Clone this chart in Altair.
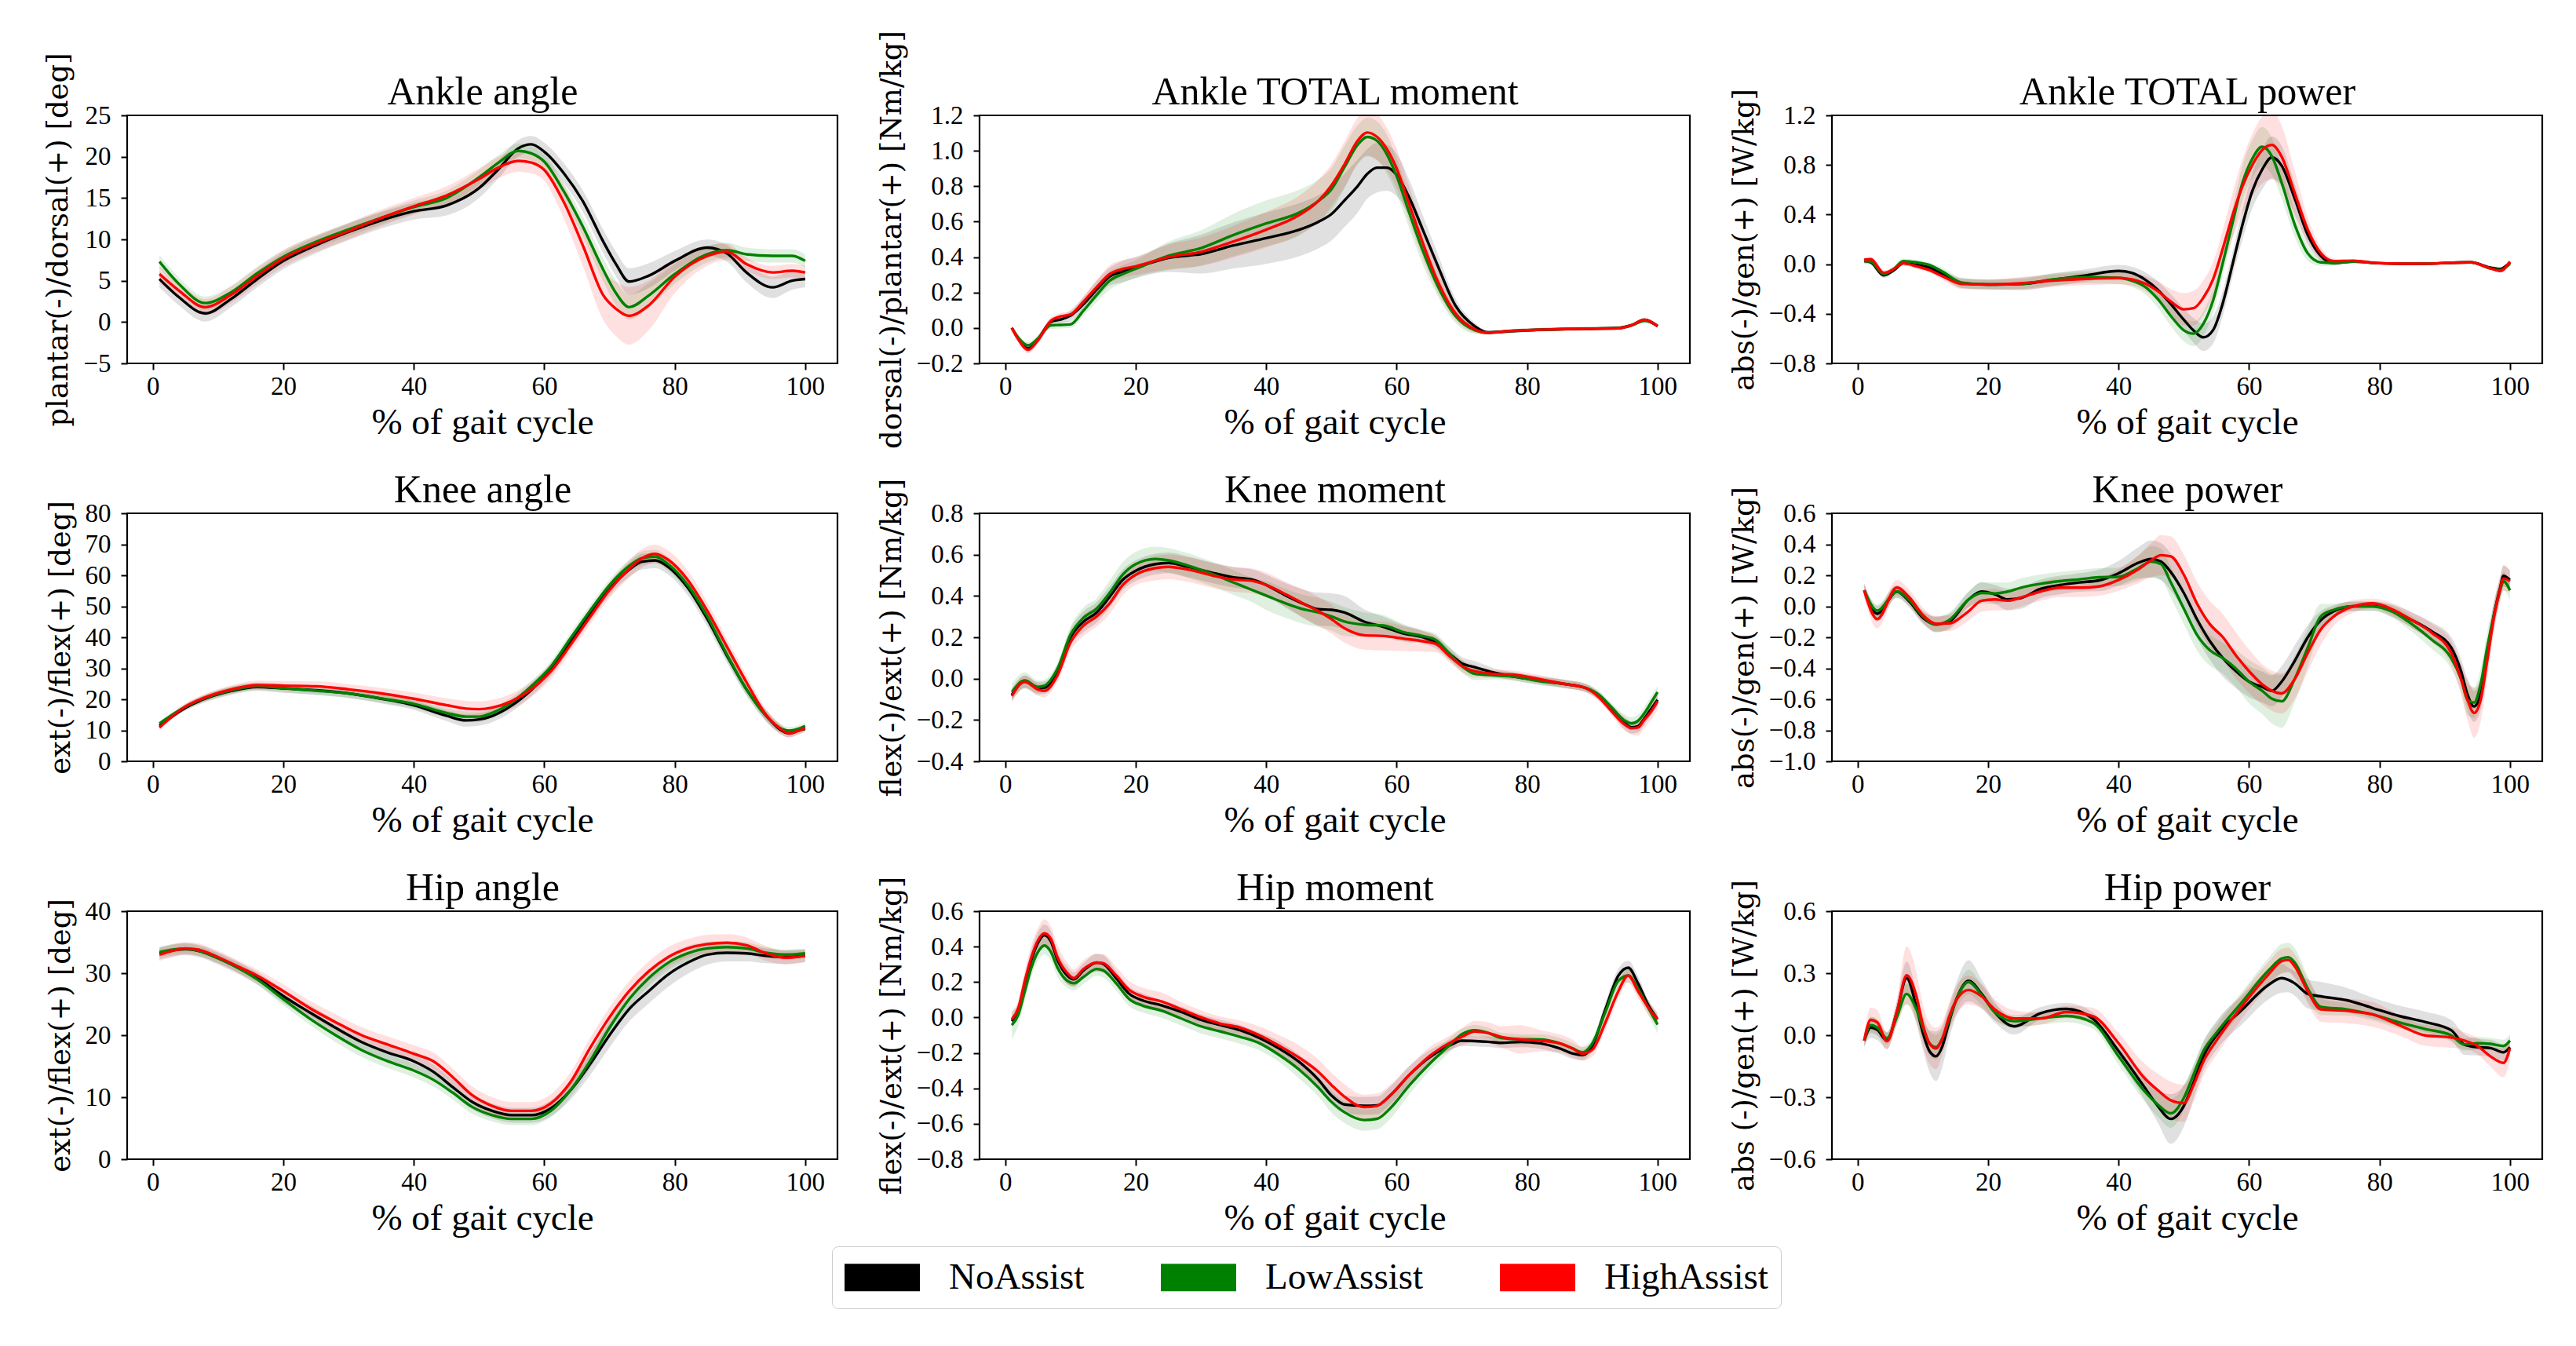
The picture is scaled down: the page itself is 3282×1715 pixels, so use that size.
import altair as alt
import pandas as pd

GROUPS = ["NoAssist", "LowAssist", "HighAssist"]
COLORS = ["#000000", "#008000", "#ff0000"]
X_TICKS = [0, 20, 40, 60, 80, 100]

# ---------------- Ankle angle ----------------
AA_X = [1, 4, 8, 12, 16, 20, 25, 30, 35, 40, 45, 50, 53, 56, 58, 60, 63, 66, 69, 71, 73, 76, 80, 85, 88, 91, 95, 98, 100]
AA_NOA = [5.2, 3.0, 1.05, 2.8, 5.2, 7.4, 9.3, 10.9, 12.3, 13.4, 14.1, 16.2, 18.5, 21.0, 21.5, 20.6, 18.0, 14.5, 9.8, 7.0, 4.9, 5.6, 7.4, 9.0, 8.3, 6.0, 4.2, 5.0, 5.2]
AA_NOA_SD = [1.0, 1.0, 1.0, 1.0, 1.0, 1.0, 1.0, 1.0, 1.0, 1.0, 1.2, 1.2, 1.1, 1.0, 1.0, 1.1, 1.2, 1.3, 1.4, 1.5, 1.6, 1.5, 1.2, 1.0, 1.0, 1.2, 1.3, 1.1, 1.0]
AA_LOW = [7.3, 4.6, 2.3, 3.6, 5.9, 7.9, 9.7, 11.2, 12.6, 13.9, 15.0, 17.5, 19.3, 20.7, 20.4, 19.4, 15.8, 11.4, 6.4, 3.5, 1.8, 3.2, 5.8, 8.2, 8.7, 8.2, 8.0, 8.0, 7.4]
AA_LOW_SD = [0.8, 0.8, 0.8, 0.8, 0.8, 0.8, 0.8, 0.8, 0.8, 0.8, 0.9, 0.9, 0.9, 0.9, 0.9, 0.9, 1.0, 1.2, 1.4, 1.5, 1.5, 1.5, 1.2, 1.0, 0.9, 0.8, 0.8, 0.8, 0.8]
AA_HIGH = [5.8, 3.8, 1.8, 3.3, 5.6, 7.7, 9.5, 11.0, 12.6, 14.0, 15.3, 17.3, 18.7, 19.5, 19.3, 18.4, 14.5, 9.1, 3.3, 1.6, 0.75, 2.0, 5.5, 8.0, 8.5, 7.0, 6.0, 6.2, 6.0]
AA_HIGH_SD = [1.0, 1.0, 1.0, 1.0, 1.0, 1.0, 1.0, 1.0, 1.0, 1.0, 1.1, 1.3, 1.3, 1.3, 1.3, 1.3, 2.0, 2.5, 3.0, 3.3, 3.5, 3.0, 2.0, 1.2, 1.0, 0.8, 0.8, 0.8, 0.8]

# ---------------- Ankle TOTAL moment ----------------
AM_X = [1, 2, 3.5, 5, 7, 8.5, 10, 12, 14, 16, 18, 20, 25, 30, 35, 40, 45, 48, 50, 52, 54, 55.5, 57, 58.5, 60, 62, 64, 66, 69, 72, 74, 77, 82, 88, 94, 96, 98, 100]
AM_NOA = [0.0, -0.06, -0.116, -0.064, 0.035, 0.048, 0.07, 0.135, 0.216, 0.29, 0.319, 0.341, 0.396, 0.417, 0.466, 0.507, 0.554, 0.599, 0.643, 0.72, 0.8, 0.87, 0.905, 0.905, 0.864, 0.73, 0.555, 0.378, 0.127, 0.009, -0.025, -0.02, -0.01, -0.005, 0.0, 0.015, 0.046, 0.01]
AM_NOA_SD = [0.01, 0.015, 0.02, 0.02, 0.02, 0.02, 0.03, 0.04, 0.05, 0.05, 0.06, 0.06, 0.08, 0.11, 0.13, 0.145, 0.15, 0.15, 0.15, 0.15, 0.15, 0.14, 0.14, 0.13, 0.12, 0.1, 0.08, 0.07, 0.04, 0.02, 0.01, 0.01, 0.01, 0.01, 0.01, 0.01, 0.01, 0.01]
AM_LOW = [0.0, -0.055, -0.098, -0.06, 0.015, 0.017, 0.02, 0.098, 0.186, 0.267, 0.304, 0.334, 0.407, 0.451, 0.525, 0.59, 0.65, 0.717, 0.783, 0.908, 1.033, 1.078, 1.056, 0.98, 0.856, 0.643, 0.437, 0.26, 0.068, -0.013, -0.027, -0.018, -0.01, -0.005, 0.0, 0.015, 0.04, 0.013]
AM_LOW_SD = [0.01, 0.015, 0.02, 0.02, 0.02, 0.02, 0.02, 0.03, 0.04, 0.05, 0.05, 0.05, 0.08, 0.1, 0.12, 0.13, 0.13, 0.12, 0.12, 0.12, 0.11, 0.11, 0.11, 0.11, 0.1, 0.09, 0.08, 0.06, 0.04, 0.02, 0.01, 0.01, 0.01, 0.01, 0.01, 0.01, 0.01, 0.01]
AM_HIGH = [0.0, -0.065, -0.123, -0.07, 0.04, 0.065, 0.076, 0.149, 0.23, 0.304, 0.333, 0.348, 0.4, 0.43, 0.488, 0.555, 0.636, 0.717, 0.805, 0.923, 1.056, 1.103, 1.078, 1.01, 0.9, 0.69, 0.48, 0.289, 0.083, -0.008, -0.027, -0.018, -0.01, -0.005, -0.002, 0.015, 0.046, 0.01]
AM_HIGH_SD = [0.01, 0.015, 0.02, 0.02, 0.02, 0.02, 0.02, 0.03, 0.04, 0.05, 0.05, 0.05, 0.07, 0.08, 0.09, 0.1, 0.11, 0.12, 0.12, 0.13, 0.13, 0.13, 0.13, 0.12, 0.11, 0.1, 0.09, 0.07, 0.04, 0.02, 0.01, 0.01, 0.01, 0.01, 0.01, 0.01, 0.01, 0.01]

# ---------------- Ankle TOTAL power ----------------
AP_X = [1, 2, 4, 5.5, 7, 9, 11, 13, 16, 20, 25, 30, 35, 40, 42, 44, 46, 48, 50, 51.5, 53, 54.5, 56, 57.5, 59, 60.5, 62, 63.5, 65, 67, 69, 71, 73, 76, 80, 86, 94, 97, 98.5, 100]
AP_NOA = [0.025, 0.015, -0.09, -0.05, 0.008, -0.006, -0.027, -0.08, -0.154, -0.164, -0.16, -0.126, -0.09, -0.055, -0.07, -0.122, -0.206, -0.322, -0.448, -0.535, -0.59, -0.53, -0.31, 0.005, 0.32, 0.59, 0.762, 0.861, 0.794, 0.53, 0.236, 0.067, 0.01, 0.021, 0.008, 0.004, 0.015, -0.027, -0.038, 0.015]
AP_NOA_SD = [0.02, 0.02, 0.02, 0.02, 0.02, 0.02, 0.02, 0.03, 0.04, 0.04, 0.05, 0.05, 0.05, 0.05, 0.05, 0.06, 0.07, 0.08, 0.09, 0.1, 0.11, 0.11, 0.1, 0.1, 0.12, 0.14, 0.16, 0.17, 0.16, 0.12, 0.08, 0.04, 0.02, 0.01, 0.01, 0.01, 0.01, 0.01, 0.01, 0.01]
AP_LOW = [0.025, 0.02, -0.08, -0.04, 0.025, 0.015, -0.006, -0.06, -0.15, -0.164, -0.16, -0.122, -0.105, -0.11, -0.133, -0.18, -0.28, -0.417, -0.533, -0.56, -0.48, -0.29, 0.015, 0.34, 0.657, 0.85, 0.947, 0.87, 0.657, 0.32, 0.088, 0.015, 0.01, 0.021, 0.008, 0.004, 0.015, -0.034, -0.048, 0.004]
AP_LOW_SD = [0.02, 0.02, 0.02, 0.02, 0.02, 0.02, 0.02, 0.03, 0.04, 0.04, 0.04, 0.05, 0.05, 0.05, 0.05, 0.06, 0.07, 0.08, 0.09, 0.1, 0.1, 0.1, 0.1, 0.12, 0.14, 0.15, 0.16, 0.15, 0.13, 0.1, 0.06, 0.03, 0.02, 0.01, 0.01, 0.01, 0.01, 0.01, 0.01, 0.01]
AP_HIGH = [0.036, 0.04, -0.07, -0.04, 0.008, -0.017, -0.048, -0.097, -0.16, -0.164, -0.154, -0.133, -0.118, -0.112, -0.122, -0.154, -0.217, -0.301, -0.364, -0.355, -0.27, -0.12, 0.13, 0.4, 0.63, 0.8, 0.92, 0.962, 0.867, 0.573, 0.278, 0.088, 0.025, 0.028, 0.008, 0.004, 0.015, -0.034, -0.055, 0.021]
AP_HIGH_SD = [0.02, 0.02, 0.02, 0.02, 0.02, 0.02, 0.02, 0.03, 0.04, 0.04, 0.05, 0.05, 0.05, 0.05, 0.05, 0.06, 0.08, 0.1, 0.13, 0.14, 0.14, 0.14, 0.15, 0.18, 0.22, 0.25, 0.27, 0.28, 0.25, 0.18, 0.1, 0.05, 0.02, 0.01, 0.01, 0.01, 0.01, 0.01, 0.01, 0.01]

# ---------------- Knee angle ----------------
KA_X = [1, 5, 8, 12, 16, 20, 25, 30, 35, 40, 45, 48, 50, 52, 55, 58, 61, 64, 67, 70, 73, 75, 77, 79, 82, 85, 88, 91, 94, 96, 97.5, 99, 100]
KA_NOA = [11.4, 17.3, 20.2, 22.7, 24.0, 23.5, 22.9, 21.9, 20.2, 18.1, 14.7, 13.2, 13.5, 14.6, 18.0, 23.0, 29.5, 38.3, 47.2, 55.5, 61.8, 64.4, 64.8, 62.7, 56.0, 45.9, 34.1, 23.2, 14.7, 10.5, 9.0, 9.9, 10.5]
KA_NOA_SD = [0.8, 1.0, 1.2, 1.3, 1.3, 1.4, 1.5, 1.5, 1.5, 1.5, 1.7, 2.0, 2.0, 2.0, 2.0, 2.0, 2.0, 2.0, 2.0, 2.0, 2.3, 2.5, 2.5, 2.5, 2.5, 2.5, 2.3, 2.0, 1.8, 1.5, 1.3, 1.2, 1.0]
KA_LOW = [12.2, 17.6, 20.4, 22.9, 24.2, 23.6, 22.8, 21.9, 20.3, 18.5, 15.6, 14.4, 14.4, 15.6, 19.0, 24.2, 30.5, 39.6, 48.5, 56.8, 63.0, 65.5, 66.0, 63.6, 56.8, 46.7, 34.5, 23.2, 14.7, 10.9, 9.9, 10.5, 11.4]
KA_LOW_SD = [0.8, 1.0, 1.1, 1.2, 1.2, 1.3, 1.3, 1.4, 1.4, 1.4, 1.5, 1.7, 1.7, 1.7, 1.7, 1.7, 1.7, 1.8, 1.8, 1.8, 2.0, 2.2, 2.2, 2.2, 2.2, 2.2, 2.0, 1.8, 1.6, 1.4, 1.2, 1.1, 1.0]
KA_HIGH = [10.9, 17.7, 20.6, 23.2, 24.6, 24.4, 24.2, 23.2, 21.9, 20.2, 18.1, 17.0, 16.8, 17.3, 19.4, 23.2, 29.0, 37.5, 46.5, 55.2, 62.0, 65.5, 66.9, 65.0, 58.5, 48.5, 37.0, 25.5, 15.0, 10.8, 9.0, 9.9, 10.7]
KA_HIGH_SD = [0.8, 1.0, 1.2, 1.3, 1.4, 1.5, 1.6, 1.7, 1.8, 2.0, 2.2, 2.5, 2.5, 2.5, 2.5, 2.5, 2.5, 2.5, 2.5, 2.6, 2.8, 3.0, 3.0, 3.0, 3.0, 2.8, 2.5, 2.3, 2.0, 1.6, 1.3, 1.2, 1.0]

# ---------------- Knee moment ----------------
KM_X = [1, 3, 5, 6, 8, 10, 12, 14, 16, 18, 20, 23, 25, 28, 32, 35, 38, 40, 43, 46, 48, 50, 52, 55, 58, 61, 64, 66, 68, 70, 72, 75, 78, 82, 86, 89, 91, 93, 95, 96, 97, 98, 99, 100]
KM_NOA = [-0.078, -0.015, -0.046, -0.044, 0.035, 0.2, 0.276, 0.32, 0.396, 0.478, 0.522, 0.554, 0.56, 0.541, 0.51, 0.49, 0.478, 0.453, 0.402, 0.358, 0.336, 0.333, 0.32, 0.276, 0.25, 0.219, 0.2, 0.175, 0.124, 0.074, 0.055, 0.029, 0.01, -0.009, -0.027, -0.046, -0.084, -0.147, -0.217, -0.236, -0.23, -0.192, -0.147, -0.103]
KM_NOA_SD = [0.03, 0.03, 0.03, 0.03, 0.03, 0.04, 0.05, 0.05, 0.05, 0.05, 0.05, 0.05, 0.05, 0.05, 0.05, 0.05, 0.05, 0.05, 0.06, 0.07, 0.08, 0.08, 0.08, 0.06, 0.05, 0.04, 0.03, 0.03, 0.03, 0.03, 0.03, 0.02, 0.02, 0.02, 0.02, 0.02, 0.02, 0.02, 0.03, 0.03, 0.03, 0.03, 0.03, 0.03]
KM_LOW = [-0.065, -0.009, -0.04, -0.034, 0.048, 0.213, 0.295, 0.339, 0.415, 0.503, 0.554, 0.579, 0.572, 0.547, 0.503, 0.465, 0.427, 0.402, 0.364, 0.333, 0.32, 0.301, 0.276, 0.261, 0.257, 0.225, 0.206, 0.187, 0.124, 0.061, 0.023, 0.016, 0.01, -0.013, -0.027, -0.044, -0.078, -0.141, -0.204, -0.217, -0.204, -0.166, -0.116, -0.065]
KM_LOW_SD = [0.04, 0.04, 0.03, 0.03, 0.03, 0.04, 0.05, 0.05, 0.06, 0.06, 0.06, 0.06, 0.06, 0.06, 0.06, 0.06, 0.06, 0.07, 0.07, 0.07, 0.07, 0.07, 0.07, 0.06, 0.05, 0.04, 0.03, 0.03, 0.03, 0.03, 0.03, 0.02, 0.02, 0.02, 0.02, 0.02, 0.02, 0.02, 0.03, 0.03, 0.03, 0.03, 0.03, 0.03]
KM_HIGH = [-0.084, -0.015, -0.053, -0.059, 0.016, 0.175, 0.257, 0.301, 0.364, 0.453, 0.503, 0.535, 0.541, 0.528, 0.497, 0.48, 0.472, 0.453, 0.408, 0.358, 0.326, 0.288, 0.244, 0.21, 0.206, 0.194, 0.181, 0.168, 0.112, 0.061, 0.036, 0.023, 0.019, -0.003, -0.027, -0.046, -0.09, -0.16, -0.223, -0.24, -0.236, -0.198, -0.16, -0.11]
KM_HIGH_SD = [0.03, 0.03, 0.03, 0.03, 0.03, 0.04, 0.05, 0.05, 0.05, 0.05, 0.05, 0.06, 0.06, 0.06, 0.06, 0.06, 0.06, 0.06, 0.06, 0.07, 0.07, 0.07, 0.07, 0.07, 0.07, 0.06, 0.05, 0.04, 0.03, 0.03, 0.03, 0.02, 0.02, 0.02, 0.02, 0.02, 0.02, 0.02, 0.03, 0.03, 0.04, 0.04, 0.04, 0.04]

# ---------------- Knee power ----------------
KP_X = [1, 3, 6, 8, 10, 12, 14, 17, 19, 21, 23, 25, 28, 31, 34, 37, 40, 43, 45, 46.5, 48, 50, 52, 54, 56, 58, 60, 62, 63.5, 65, 67, 69, 71, 73, 76, 79, 82, 85, 88, 91, 92.5, 93.5, 94.5, 95.5, 96.5, 97.5, 98.5, 99, 100]
KP_NOA = [0.103, -0.048, 0.095, 0.027, -0.074, -0.116, -0.1, 0.044, 0.095, 0.078, 0.044, 0.053, 0.112, 0.137, 0.154, 0.167, 0.213, 0.28, 0.305, 0.288, 0.221, 0.086, -0.082, -0.225, -0.335, -0.419, -0.486, -0.52, -0.545, -0.486, -0.352, -0.2, -0.09, -0.032, 0.0, 0.002, -0.03, -0.09, -0.162, -0.267, -0.419, -0.57, -0.646, -0.57, -0.335, -0.065, 0.12, 0.196, 0.17]
KP_NOA_SD = [0.04, 0.05, 0.04, 0.04, 0.04, 0.05, 0.05, 0.05, 0.06, 0.06, 0.07, 0.07, 0.06, 0.06, 0.06, 0.07, 0.08, 0.1, 0.12, 0.12, 0.12, 0.12, 0.12, 0.12, 0.12, 0.11, 0.1, 0.1, 0.1, 0.1, 0.1, 0.08, 0.06, 0.04, 0.03, 0.03, 0.04, 0.05, 0.06, 0.07, 0.08, 0.1, 0.1, 0.1, 0.1, 0.08, 0.07, 0.07, 0.06]
KP_LOW = [0.103, -0.028, 0.095, 0.036, -0.065, -0.119, -0.09, 0.044, 0.086, 0.083, 0.095, 0.12, 0.145, 0.162, 0.174, 0.187, 0.19, 0.246, 0.288, 0.272, 0.154, -0.015, -0.183, -0.284, -0.335, -0.402, -0.486, -0.545, -0.596, -0.613, -0.469, -0.267, -0.065, -0.023, 0.0, -0.001, -0.035, -0.116, -0.215, -0.335, -0.469, -0.604, -0.621, -0.503, -0.267, -0.065, 0.103, 0.162, 0.103]
KP_LOW_SD = [0.04, 0.04, 0.04, 0.04, 0.04, 0.05, 0.05, 0.05, 0.07, 0.07, 0.06, 0.06, 0.06, 0.06, 0.06, 0.06, 0.06, 0.08, 0.1, 0.1, 0.1, 0.1, 0.1, 0.1, 0.1, 0.12, 0.14, 0.15, 0.16, 0.17, 0.15, 0.12, 0.08, 0.04, 0.03, 0.03, 0.04, 0.05, 0.06, 0.07, 0.08, 0.1, 0.1, 0.1, 0.1, 0.08, 0.07, 0.06, 0.06]
KP_HIGH = [0.103, -0.082, 0.12, 0.053, -0.057, -0.112, -0.11, -0.032, 0.036, 0.044, 0.036, 0.056, 0.095, 0.12, 0.12, 0.128, 0.17, 0.238, 0.297, 0.33, 0.322, 0.204, 0.019, -0.116, -0.2, -0.318, -0.419, -0.503, -0.545, -0.562, -0.469, -0.301, -0.149, -0.065, 0.0, 0.019, -0.02, -0.09, -0.17, -0.301, -0.469, -0.604, -0.688, -0.604, -0.352, -0.082, 0.112, 0.179, 0.162]
KP_HIGH_SD = [0.05, 0.06, 0.05, 0.05, 0.05, 0.05, 0.05, 0.06, 0.07, 0.07, 0.06, 0.06, 0.06, 0.06, 0.06, 0.06, 0.07, 0.09, 0.11, 0.13, 0.13, 0.13, 0.14, 0.15, 0.15, 0.15, 0.14, 0.13, 0.13, 0.13, 0.13, 0.12, 0.1, 0.06, 0.04, 0.03, 0.04, 0.05, 0.06, 0.08, 0.1, 0.13, 0.16, 0.14, 0.12, 0.1, 0.08, 0.08, 0.07]

# ---------------- Hip angle ----------------
HA_X = [1, 3, 5, 7, 10, 13, 16, 20, 24, 28, 32, 36, 40, 43, 46, 49, 52, 55, 58, 61, 64, 67, 70, 73, 76, 79, 82, 85, 88, 91, 94, 97, 100]
HA_NOA = [33.2, 33.7, 33.9, 33.6, 32.4, 30.9, 29.2, 26.3, 23.7, 21.2, 18.9, 17.2, 15.8, 14.1, 11.6, 9.2, 7.8, 7.1, 7.1, 8.2, 11.1, 15.3, 20.0, 24.2, 27.1, 29.8, 31.7, 33.0, 33.3, 33.2, 32.8, 32.6, 32.8]
HA_NOA_SD = [1.0, 1.0, 1.0, 1.0, 1.0, 1.0, 1.0, 1.1, 1.2, 1.2, 1.2, 1.2, 1.2, 1.2, 1.2, 1.2, 1.2, 1.2, 1.2, 1.3, 1.5, 1.8, 2.0, 2.0, 2.0, 2.0, 1.8, 1.6, 1.4, 1.3, 1.2, 1.1, 1.0]
HA_LOW = [33.4, 33.8, 33.95, 33.6, 32.4, 30.9, 29.0, 25.8, 22.7, 20.0, 17.6, 15.8, 14.3, 12.8, 10.7, 8.4, 7.1, 6.5, 6.5, 7.8, 11.1, 15.8, 21.2, 25.8, 29.2, 31.7, 33.2, 34.0, 34.2, 34.0, 33.3, 33.0, 33.2]
HA_LOW_SD = [0.8, 0.8, 0.8, 0.8, 0.8, 0.8, 0.9, 1.0, 1.0, 1.1, 1.1, 1.1, 1.1, 1.1, 1.1, 1.1, 1.0, 1.0, 1.0, 1.0, 1.1, 1.2, 1.3, 1.3, 1.3, 1.2, 1.2, 1.1, 1.0, 1.0, 0.9, 0.8, 0.8]
HA_HIGH = [33.0, 33.6, 34.0, 33.8, 32.6, 31.1, 29.6, 27.1, 24.4, 22.1, 20.0, 18.5, 17.0, 15.8, 13.2, 10.3, 8.6, 7.8, 7.8, 9.0, 12.4, 17.9, 22.9, 27.1, 30.3, 32.6, 34.0, 34.7, 34.9, 34.5, 33.2, 32.5, 32.8]
HA_HIGH_SD = [1.0, 1.0, 1.0, 1.0, 1.0, 1.0, 1.0, 1.1, 1.2, 1.3, 1.3, 1.3, 1.4, 1.4, 1.4, 1.4, 1.4, 1.4, 1.4, 1.5, 1.6, 1.6, 1.6, 1.6, 1.6, 1.6, 1.5, 1.5, 1.4, 1.3, 1.2, 1.1, 1.0]

# ---------------- Hip moment ----------------
HM_X = [1, 2, 3, 4, 5, 6, 7, 8, 9.5, 10.5, 12, 14, 15, 17, 19, 21, 24, 27, 30, 33, 36, 39, 42, 45, 48, 50, 52, 55, 57, 59, 62, 65, 68, 70, 72, 74, 76, 79, 82, 85, 87, 88.5, 90, 92, 94, 95.5, 97, 98.5, 100]
HM_NOA = [-0.021, 0.046, 0.193, 0.325, 0.421, 0.465, 0.428, 0.325, 0.237, 0.215, 0.266, 0.31, 0.303, 0.222, 0.134, 0.097, 0.068, 0.031, -0.013, -0.043, -0.072, -0.116, -0.175, -0.249, -0.351, -0.44, -0.491, -0.499, -0.496, -0.44, -0.322, -0.226, -0.16, -0.131, -0.133, -0.137, -0.143, -0.138, -0.146, -0.175, -0.204, -0.212, -0.16, 0.046, 0.237, 0.281, 0.193, 0.075, -0.01]
HM_NOA_SD = [0.03, 0.04, 0.05, 0.06, 0.06, 0.06, 0.06, 0.05, 0.05, 0.04, 0.04, 0.05, 0.05, 0.04, 0.04, 0.04, 0.03, 0.03, 0.03, 0.03, 0.03, 0.03, 0.04, 0.04, 0.05, 0.05, 0.05, 0.05, 0.05, 0.05, 0.05, 0.04, 0.03, 0.03, 0.03, 0.03, 0.03, 0.03, 0.03, 0.03, 0.03, 0.03, 0.03, 0.04, 0.04, 0.04, 0.04, 0.03, 0.03]
HM_LOW = [-0.043, 0.016, 0.149, 0.281, 0.369, 0.406, 0.369, 0.281, 0.207, 0.193, 0.229, 0.274, 0.266, 0.193, 0.104, 0.068, 0.038, -0.006, -0.05, -0.079, -0.109, -0.146, -0.212, -0.293, -0.396, -0.476, -0.535, -0.579, -0.572, -0.513, -0.381, -0.263, -0.16, -0.094, -0.072, -0.087, -0.116, -0.124, -0.124, -0.146, -0.175, -0.197, -0.146, 0.031, 0.207, 0.237, 0.163, 0.06, -0.04]
HM_LOW_SD = [0.08, 0.06, 0.05, 0.05, 0.05, 0.05, 0.05, 0.05, 0.04, 0.04, 0.04, 0.04, 0.04, 0.04, 0.04, 0.04, 0.04, 0.04, 0.04, 0.04, 0.04, 0.04, 0.04, 0.05, 0.05, 0.06, 0.06, 0.06, 0.06, 0.06, 0.05, 0.04, 0.04, 0.03, 0.03, 0.03, 0.03, 0.03, 0.03, 0.03, 0.03, 0.03, 0.03, 0.04, 0.04, 0.04, 0.04, 0.04, 0.05]
HM_HIGH = [-0.01, 0.053, 0.207, 0.34, 0.435, 0.475, 0.443, 0.34, 0.251, 0.222, 0.274, 0.31, 0.307, 0.237, 0.156, 0.119, 0.09, 0.046, 0.001, -0.035, -0.057, -0.101, -0.16, -0.226, -0.307, -0.381, -0.447, -0.506, -0.499, -0.44, -0.322, -0.219, -0.146, -0.109, -0.079, -0.087, -0.109, -0.124, -0.131, -0.146, -0.175, -0.204, -0.182, -0.028, 0.149, 0.237, 0.149, 0.06, -0.01]
HM_HIGH_SD = [0.04, 0.05, 0.06, 0.07, 0.07, 0.08, 0.07, 0.07, 0.06, 0.05, 0.05, 0.05, 0.05, 0.05, 0.05, 0.05, 0.05, 0.04, 0.04, 0.04, 0.04, 0.05, 0.06, 0.07, 0.07, 0.07, 0.07, 0.07, 0.07, 0.06, 0.05, 0.05, 0.04, 0.05, 0.06, 0.06, 0.06, 0.08, 0.06, 0.05, 0.05, 0.04, 0.04, 0.04, 0.04, 0.04, 0.04, 0.04, 0.04]

# ---------------- Hip power ----------------
HP_X = [1, 2, 3, 4.5, 6, 7.5, 9, 10, 11, 12, 13, 14, 15, 17, 19, 21, 24, 28, 32, 36, 40, 44, 46, 48, 50, 51.5, 53, 55, 59, 63, 65, 66, 67, 69, 71, 75, 79, 83, 87, 91, 93, 95, 97, 99, 100]
HP_NOA = [-0.026, 0.037, 0.026, -0.026, 0.112, 0.276, 0.137, 0.011, -0.077, -0.102, -0.052, 0.062, 0.163, 0.263, 0.2, 0.112, 0.043, 0.106, 0.127, 0.081, -0.077, -0.253, -0.342, -0.405, -0.342, -0.228, -0.102, -0.001, 0.125, 0.244, 0.276, 0.268, 0.251, 0.2, 0.188, 0.169, 0.131, 0.093, 0.064, 0.024, -0.045, -0.058, -0.062, -0.083, -0.058]
HP_NOA_SD = [0.03, 0.05, 0.05, 0.04, 0.05, 0.08, 0.08, 0.08, 0.1, 0.12, 0.1, 0.08, 0.08, 0.1, 0.07, 0.05, 0.04, 0.03, 0.03, 0.03, 0.04, 0.06, 0.08, 0.12, 0.1, 0.08, 0.07, 0.07, 0.07, 0.07, 0.07, 0.06, 0.06, 0.07, 0.07, 0.06, 0.05, 0.05, 0.05, 0.05, 0.05, 0.04, 0.04, 0.04, 0.04]
HP_LOW = [-0.026, 0.049, 0.037, -0.014, 0.087, 0.2, 0.125, 0.037, -0.039, -0.058, -0.014, 0.074, 0.163, 0.257, 0.194, 0.112, 0.068, 0.081, 0.093, 0.062, -0.102, -0.272, -0.335, -0.378, -0.304, -0.19, -0.077, 0.011, 0.163, 0.314, 0.371, 0.377, 0.352, 0.226, 0.137, 0.125, 0.1, 0.062, 0.03, -0.001, -0.045, -0.039, -0.042, -0.052, -0.026]
HP_LOW_SD = [0.03, 0.04, 0.04, 0.03, 0.04, 0.05, 0.06, 0.06, 0.06, 0.06, 0.05, 0.05, 0.05, 0.06, 0.05, 0.04, 0.03, 0.03, 0.03, 0.03, 0.04, 0.05, 0.06, 0.07, 0.06, 0.05, 0.05, 0.05, 0.05, 0.06, 0.07, 0.07, 0.07, 0.06, 0.04, 0.03, 0.03, 0.03, 0.03, 0.03, 0.03, 0.03, 0.03, 0.03, 0.03]
HP_HIGH = [-0.026, 0.074, 0.062, -0.029, 0.112, 0.29, 0.188, 0.049, -0.039, -0.064, -0.014, 0.087, 0.163, 0.219, 0.188, 0.125, 0.081, 0.081, 0.112, 0.093, -0.039, -0.209, -0.266, -0.315, -0.329, -0.241, -0.127, -0.026, 0.144, 0.295, 0.358, 0.364, 0.333, 0.213, 0.125, 0.118, 0.1, 0.049, -0.001, -0.011, -0.026, -0.052, -0.102, -0.134, -0.064]
HP_HIGH_SD = [0.03, 0.06, 0.06, 0.04, 0.06, 0.14, 0.12, 0.1, 0.1, 0.1, 0.08, 0.07, 0.07, 0.07, 0.06, 0.05, 0.04, 0.03, 0.03, 0.04, 0.05, 0.07, 0.08, 0.09, 0.09, 0.08, 0.07, 0.07, 0.06, 0.06, 0.06, 0.06, 0.06, 0.06, 0.06, 0.06, 0.06, 0.05, 0.05, 0.05, 0.04, 0.04, 0.05, 0.07, 0.06]

PANELS = [
    ("Ankle angle", "plantar(-)/dorsal(+) [deg]", AA_X, [AA_NOA, AA_LOW, AA_HIGH], [AA_NOA_SD, AA_LOW_SD, AA_HIGH_SD], [-5, 25], [-5, 0, 5, 10, 15, 20, 25], "d"),
    ("Ankle TOTAL moment", "dorsal(-)/plantar(+) [Nm/kg]", AM_X, [AM_NOA, AM_LOW, AM_HIGH], [AM_NOA_SD, AM_LOW_SD, AM_HIGH_SD], [-0.2, 1.2], [-0.2, 0.0, 0.2, 0.4, 0.6, 0.8, 1.0, 1.2], ".1f"),
    ("Ankle TOTAL power", "abs(-)/gen(+) [W/kg]", AP_X, [AP_NOA, AP_LOW, AP_HIGH], [AP_NOA_SD, AP_LOW_SD, AP_HIGH_SD], [-0.8, 1.2], [-0.8, -0.4, 0.0, 0.4, 0.8, 1.2], ".1f"),
    ("Knee angle", "ext(-)/flex(+) [deg]", KA_X, [KA_NOA, KA_LOW, KA_HIGH], [KA_NOA_SD, KA_LOW_SD, KA_HIGH_SD], [0, 80], [0, 10, 20, 30, 40, 50, 60, 70, 80], "d"),
    ("Knee moment", "flex(-)/ext(+) [Nm/kg]", KM_X, [KM_NOA, KM_LOW, KM_HIGH], [KM_NOA_SD, KM_LOW_SD, KM_HIGH_SD], [-0.4, 0.8], [-0.4, -0.2, 0.0, 0.2, 0.4, 0.6, 0.8], ".1f"),
    ("Knee power", "abs(-)/gen(+) [W/kg]", KP_X, [KP_NOA, KP_LOW, KP_HIGH], [KP_NOA_SD, KP_LOW_SD, KP_HIGH_SD], [-1.0, 0.6], [-1.0, -0.8, -0.6, -0.4, -0.2, 0.0, 0.2, 0.4, 0.6], ".1f"),
    ("Hip angle", "ext(-)/flex(+) [deg]", HA_X, [HA_NOA, HA_LOW, HA_HIGH], [HA_NOA_SD, HA_LOW_SD, HA_HIGH_SD], [0, 40], [0, 10, 20, 30, 40], "d"),
    ("Hip moment", "flex(-)/ext(+) [Nm/kg]", HM_X, [HM_NOA, HM_LOW, HM_HIGH], [HM_NOA_SD, HM_LOW_SD, HM_HIGH_SD], [-0.8, 0.6], [-0.8, -0.6, -0.4, -0.2, 0.0, 0.2, 0.4, 0.6], ".1f"),
    ("Hip power", "abs (-)/gen(+) [W/kg]", HP_X, [HP_NOA, HP_LOW, HP_HIGH], [HP_NOA_SD, HP_LOW_SD, HP_HIGH_SD], [-0.6, 0.6], [-0.6, -0.3, 0.0, 0.3, 0.6], ".1f"),
]

W, H = 905, 316
FONT = "Liberation Serif"

color_scale = alt.Scale(domain=GROUPS, range=COLORS)
legend = alt.Legend(
    orient="none", legendX=898, legendY=1441, direction="horizontal", title=None,
    symbolType="M-1,-0.745H3.085V0.745H-1Z", symbolSize=2209, symbolOpacity=1, symbolStrokeWidth=0,
    labelFont=FONT, labelFontSize=47, labelColor="black", labelOffset=86, labelLimit=0,
    columnPadding=97, padding=16, strokeColor="#cccccc", fillColor="white", cornerRadius=8,
)


def make_panel(idx, title, ylab, xs, means, sds, dom, ticks, fmt):
    rows = []
    for g, m, s in zip(GROUPS, means, sds):
        assert len(m) == len(xs) and len(s) == len(xs), (title, g, len(xs), len(m), len(s))
        for xv, mv, sv in zip(xs, m, s):
            rows.append({"x": xv, "g": g, "m": mv, "lo": mv - sv, "hi": mv + sv})
    df = pd.DataFrame(rows)
    xscale = alt.Scale(domain=[-3.95, 104.95], nice=False, zero=False)
    yscale = alt.Scale(domain=dom, nice=False, zero=False)
    xaxis = alt.Axis(values=X_TICKS, title="% of gait cycle", format="d", labelOverlap=False, orient="bottom")
    taxis = alt.Axis(values=X_TICKS, title=title, orient="top", labels=False, ticks=False, domain=False,
                     titleFont=FONT, titleFontSize=50, titleFontWeight="normal", titleColor="black", titlePadding=5)
    yaxis = alt.Axis(values=ticks, format=fmt, title=ylab, labelOverlap=False)
    base = alt.Chart(df)
    band = base.mark_area(opacity=0.12, interpolate="monotone", clip=True).encode(
        x=alt.X("x:Q", scale=xscale, axis=xaxis),
        y=alt.Y("lo:Q", scale=yscale, axis=yaxis),
        y2="hi:Q",
        color=alt.Color("g:N", scale=color_scale, sort=GROUPS, legend=legend if idx == 0 else None),
        detail="g:N",
    )
    line = base.mark_line(strokeWidth=3.4, interpolate="monotone", clip=True).encode(
        x=alt.X("x:Q", scale=xscale, axis=taxis),
        y=alt.Y("m:Q", scale=yscale, axis=yaxis),
        color=alt.Color("g:N", scale=color_scale, sort=GROUPS, legend=None),
        detail="g:N",
    )
    return alt.layer(band, line).resolve_axis(x="independent").properties(width=W, height=H)


charts = [make_panel(i, *p) for i, p in enumerate(PANELS)]

chart = alt.concat(*charts, columns=3, spacing={"row": 191, "column": 181}, bounds="flush").properties(
    padding={"left": 46, "top": 29, "right": 10, "bottom": 10},
    background="white",
).configure_view(
    stroke="black", strokeWidth=2.2
).configure_axis(
    grid=False, domain=False, tickColor="black", tickWidth=2, tickSize=8,
    labelColor="black", labelFont=FONT, labelFontSize=33, titleColor="black", titleFontWeight="normal",
).configure_axisX(
    titleFont=FONT, titleFontSize=47, labelPadding=5, titlePadding=6,
).configure_axisY(
    titleFont="DejaVu Serif", titleFontSize=37, labelPadding=13, titlePadding=12,
)

chart.save("out.html", embed_options={"renderer": "svg", "actions": False})
